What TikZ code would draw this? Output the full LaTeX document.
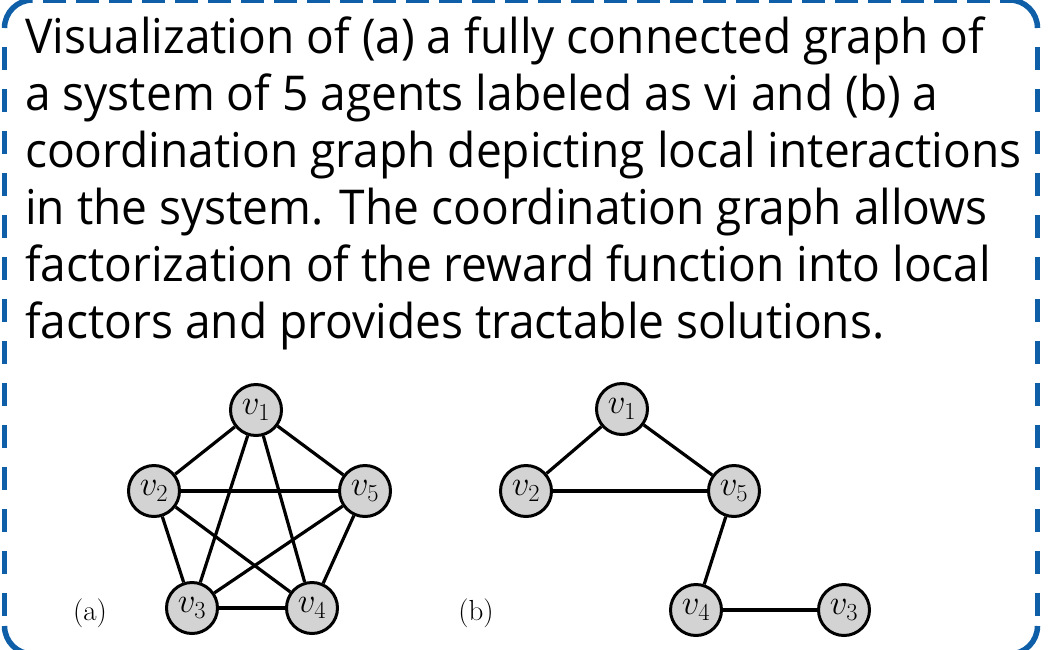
\RequirePackage{fix-cm}
\documentclass[tikz,border=0pt]{standalone}
\usepackage[no-math]{fontspec}
\setsansfont{Open Sans}[FakeStretch=0.96]
\definecolor{frameblue}{RGB}{14,94,168}
\definecolor{agentgray}{RGB}{211,211,211}
\tikzset{
  frame/.style={draw=frameblue, line width=5.5pt},
  framecorner/.style={frame, rounded corners=28pt},
  frameh/.style={frame, dash pattern=on 23pt off 10pt, dash phase=23pt},
  framev/.style={frame, dash pattern=on 23pt off 19pt, dash phase=23pt},
  capline/.style={anchor=base west, inner sep=0pt, font=\sffamily\fontsize{48}{48}\selectfont},
  agent/.style={circle, draw=black, line width=3pt, fill=agentgray, minimum size=51pt, inner sep=0pt,
    font=\fontsize{35}{35}\selectfont},
  link/.style={line width=3.2pt, black},
  tag/.style={font=\fontsize{29}{29}\selectfont, inner sep=0pt}
}
\begin{document}
\begin{tikzpicture}[x=1pt,y=-1pt]
\useasboundingbox (0,0) rectangle (1050,649);

% dashed frame: solid corner pieces, dashed straight sides
% (y runs downwards here, so a negative yshift moves a point down)
\coordinate (tl) at (4.5,0);
\coordinate (tr) at (1037.5,0);
\coordinate (br) at (1037.5,654);
\coordinate (bl) at (4.5,654);
\draw[framecorner] ([yshift=-28pt]tl) -- (tl) -- ([xshift=28pt]tl);
\draw[framecorner] ([xshift=-28pt]tr) -- (tr) -- ([yshift=-28pt]tr);
\draw[framecorner] ([yshift=28pt]br) -- (br) -- ([xshift=-28pt]br);
\draw[framecorner] ([xshift=28pt]bl) -- (bl) -- ([yshift=28pt]bl);
\draw[frameh] ([xshift=28pt]tl) -- ([xshift=-28pt]tr);
\draw[frameh] ([xshift=28pt]bl) -- ([xshift=-28pt]br);
\draw[framev] ([yshift=-28pt]tl) -- ([yshift=28pt]bl);
\draw[framev] ([yshift=-28pt]tr) -- ([yshift=28pt]br);

% caption text
\node[capline] (l1) at (25,53)  {Visualization of (a) a fully connected graph of};
\node[capline] (l2) at (25,110) {a system of 5 agents labeled as vi and (b) a};
\node[capline] (l3) at (25,167) {coordination graph depicting local interactions};
\node[capline] (l4) at (25,224) {in the system. The coordination graph allows};
\node[capline] (l5) at (25,281) {factorization of the reward function into local};
\node[capline] (l6) at (25,338) {factors and provides tractable solutions.};

% (a) fully connected graph
\node[agent] (a1) at (256,410) {$v_1$};
\node[agent] (a2) at (154,491) {$v_2$};
\node[agent] (a5) at (365,491) {$v_5$};
\node[agent] (a3) at (192,608) {$v_3$};
\node[agent] (a4) at (312,608) {$v_4$};
\draw[link] (a1) -- (a2);
\draw[link] (a1) -- (a5);
\draw[link] (a1) -- (a3);
\draw[link] (a1) -- (a4);
\draw[link] (a2) -- (a5);
\draw[link] (a2) -- (a3);
\draw[link] (a2) -- (a4);
\draw[link] (a5) -- (a3);
\draw[link] (a5) -- (a4);
\draw[link] (a3) -- (a4);
\node[tag] (ta) at (90,613) {(a)};

% (b) coordination graph
\node[agent] (b1) at (622,409) {$v_1$};
\node[agent] (b2) at (526,491) {$v_2$};
\node[agent] (b5) at (734,491) {$v_5$};
\node[agent] (b4) at (696,610) {$v_4$};
\node[agent] (b3) at (844,610) {$v_3$};
\draw[link] (b1) -- (b2);
\draw[link] (b1) -- (b5);
\draw[link] (b2) -- (b5);
\draw[link] (b5) -- (b4);
\draw[link] (b4) -- (b3);
\node[tag] (tb) at (476,613) {(b)};
\end{tikzpicture}
\end{document}
